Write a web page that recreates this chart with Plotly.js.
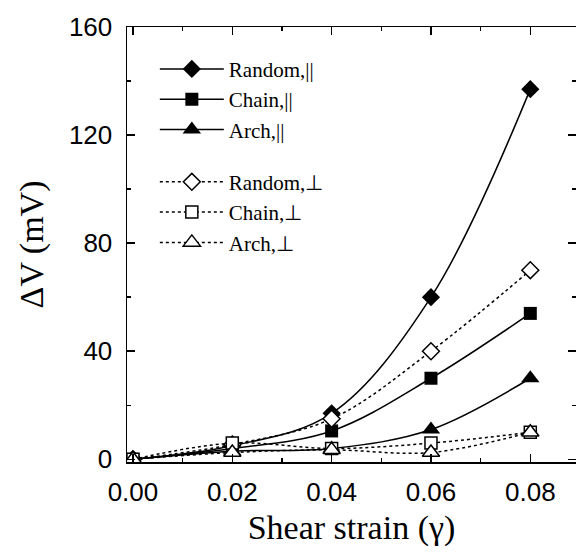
<!DOCTYPE html>
<html>
<head>
<meta charset="utf-8">
<script src="https://cdn.plot.ly/plotly-3.0.1.min.js"></script>
<style>html,body{margin:0;padding:0;background:#fff;}#chart{width:576px;height:555px;}</style>
</head>
<body>
<div id="chart"></div>
<script>
// Data
const strain = [0, 0.02, 0.04, 0.06, 0.08];
const randomPar = [0, 5, 17, 60, 137];
const chainPar = [0, 4, 10.5, 30, 54];
const archPar = [0, 3, 4, 11, 30];
const randomPerp = [0, 5.5, 15, 40, 70];
const chainPerp = [0, 6, 4, 6, 10];
const archPerp = [0, 2.5, 3.5, 2.5, 10];

const seriesNames = ["Random,||", "Chain,||", "Arch,||", "Random,\u22a5", "Chain,\u22a5", "Arch,\u22a5"];
const xTickVals = [0, 0.02, 0.04, 0.06, 0.08];
const xTickText = ['0.00', '0.02', '0.04', '0.06', '0.08'];
const yTickVals = [0, 40, 80, 120, 160];

function tr(y, name, symbol, filled, dash, size, group) {
  return {
    x: strain, y: y, name: name, type: 'scatter', mode: 'lines+markers',
    legendgroup: group,
    line: {color: '#000', width: 1.5, dash: dash, shape: 'spline', smoothing: 1},
    marker: {symbol: symbol, size: size, color: filled ? '#000' : '#fff',
             line: {color: '#000', width: filled ? 0 : 1.5}}
  };
}

const data = [
  tr(randomPar, seriesNames[0], 'diamond', true, 'solid', 14, 'par'),
  tr(chainPar, seriesNames[1], 'square', true, 'solid', 13, 'par'),
  tr(archPar, seriesNames[2], 'triangle-up', true, 'solid', 16, 'par'),
  tr(randomPerp, seriesNames[3], 'diamond', false, 'dot', 13, 'perp'),
  tr(chainPerp, seriesNames[4], 'square', false, 'dot', 12, 'perp'),
  tr(archPerp, seriesNames[5], 'triangle-up', false, 'dot', 15, 'perp')
];

const tickFont = {family: 'Liberation Sans, Arial, sans-serif', size: 26, color: '#000'};
const titleFont = {family: 'Liberation Serif, Times New Roman, serif', size: 34, color: '#000'};

const layout = {
  width: 576, height: 555,
  margin: {l: 127, r: 0, t: 27, b: 93},
  paper_bgcolor: '#fff', plot_bgcolor: '#fff',
  showlegend: true,
  legend: {
    x: 0.062, y: 0.95, xanchor: 'left', yanchor: 'top',
    bgcolor: 'rgba(0,0,0,0)', borderwidth: 0,
    font: {family: 'Liberation Serif, Times New Roman, serif', size: 21, color: '#000'},
    traceorder: 'grouped', tracegroupgap: 22, itemwidth: 64
  },
  xaxis: {
    range: [-0.0012, 0.0892],
    tickvals: xTickVals,
    ticktext: xTickText,
    ticks: 'inside', ticklen: 8, tickwidth: 1.5, tickcolor: '#000',
    minor: {dtick: 0.01, tick0: 0, ticks: 'inside', ticklen: 4, tickwidth: 1.5, tickcolor: '#000'},
    showline: true, linecolor: '#000', linewidth: 1.5, mirror: 'allticks',
    showgrid: false, zeroline: false,
    tickfont: tickFont, ticklabelstandoff: 6,
    title: {text: 'Shear strain (\u03b3)', font: titleFont, standoff: 9}
  },
  yaxis: {
    range: [-1, 160],
    tickvals: yTickVals,
    ticks: 'inside', ticklen: 8, tickwidth: 1.5, tickcolor: '#000',
    minor: {dtick: 20, tick0: 0, ticks: 'inside', ticklen: 4, tickwidth: 1.5, tickcolor: '#000'},
    showline: true, linecolor: '#000', linewidth: 1.5, mirror: 'allticks',
    showgrid: false, zeroline: false,
    tickfont: tickFont, ticklabelstandoff: 8,
    title: {text: '\u0394V (mV)', font: titleFont, standoff: 15}
  }
};

Plotly.newPlot('chart', data, layout, {displayModeBar: false, staticPlot: true});
</script>
</body>
</html>
